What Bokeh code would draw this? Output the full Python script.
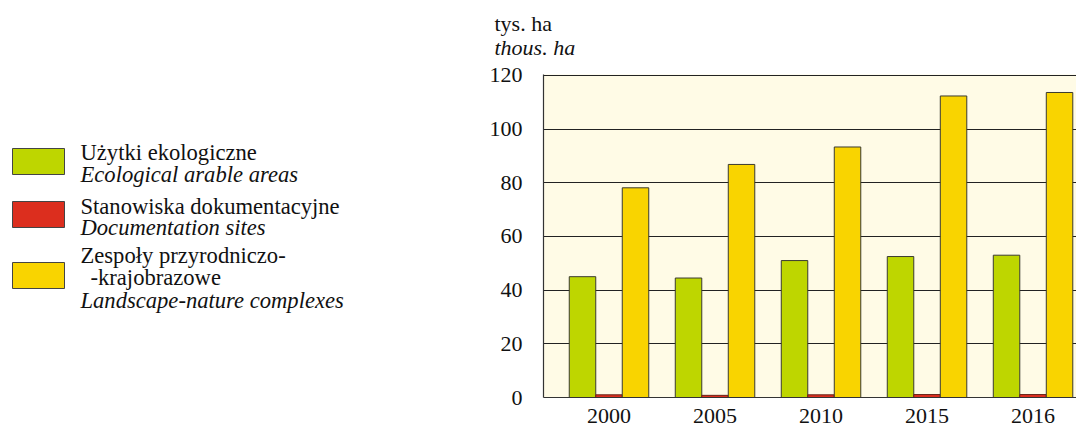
from bokeh.plotting import figure
from bokeh.layouts import row, column
from bokeh.models import ColumnDataSource, Range1d, FixedTicker
from bokeh.core.properties import value
from bokeh.transform import dodge
from bokeh.embed import file_html
from bokeh.resources import INLINE

# ---- data ----
years = ["2000", "2005", "2010", "2015", "2016"]
ecological = [45.0, 44.5, 51.0, 52.5, 53.0]
documentation = [1.0, 0.8, 1.0, 1.1, 1.1]
landscape = [78.1, 86.8, 93.3, 112.3, 113.6]
y_ticks = [0, 20, 40, 60, 80, 100, 120]

unit_pl = "tys. ha"
unit_en = "thous. ha"
names_pl = ["Użytki ekologiczne", "Stanowiska dokumentacyjne", "Zespoły przyrodniczo-"]
name_pl_cont = "-krajobrazowe"
names_en = ["Ecological arable areas", "Documentation sites", "Landscape-nature complexes"]
colors = ["#BED600", "#DC2E1E", "#F9D400"]

FONT = "Liberation Serif"
TXT = "#111111"
FS = "22px"
FS_LEG = "22.6px"
W, H = 1076, 427
HEAD_H = 60          # strip above the chart holding the unit labels
LEG_W = 440          # width of the legend panel
TOP_B, BOT_B = 14, 30
FRAME_LEFT = 543


def blank_fig(width, height, y_top, y_bottom, **kw):
    f = figure(width=width, height=height, x_range=Range1d(0, width),
               y_range=Range1d(y_bottom, y_top), output_backend="svg",
               toolbar_location=None, title=None,
               x_axis_location=None, y_axis_location=None, **kw)
    f.outline_line_color = None
    f.xgrid.visible = False
    f.ygrid.visible = False
    return f


# ---------------- header with unit labels ----------------
hf = blank_fig(W, HEAD_H, 0, HEAD_H, min_border_left=0, min_border_right=0,
               min_border_top=0, min_border_bottom=0)
hf.text(x=[494], y=[23], text=[unit_pl], text_font=value(FONT), text_font_size=FS,
        text_color=TXT, text_baseline="alphabetic")
hf.text(x=[494], y=[47], text=[unit_en], text_font=value(FONT), text_font_style="italic",
        text_font_size=FS, text_color=TXT, text_baseline="alphabetic")

# ---------------- main chart ----------------
idx = list(range(len(years)))
src = ColumnDataSource(dict(x=idx, year=years, eco=ecological, doc=documentation, land=landscape))

p = figure(width=W - LEG_W, height=H - HEAD_H, title=None,
           x_range=Range1d(-0.618, 4.410), y_range=Range1d(0, 120.3),
           output_backend="svg", toolbar_location=None,
           min_border_left=FRAME_LEFT - LEG_W, min_border_top=TOP_B,
           min_border_bottom=BOT_B, min_border_right=0)

p.background_fill_color = "#FFFBE6"
p.outline_line_color = None

bw = 0.25
p.vbar(x=dodge("x", -bw), top="eco", width=bw, source=src,
       fill_color=colors[0], line_color="#3a3a30", line_width=1)
p.vbar(x="x", top="doc", width=bw, source=src,
       fill_color=colors[1], line_color="#6a2418", line_width=1)
p.vbar(x=dodge("x", bw), top="land", width=bw, source=src,
       fill_color=colors[2], line_color="#3a3a30", line_width=1)

p.xaxis.ticker = FixedTicker(ticks=idx)
p.xaxis.major_label_overrides = {i: y for i, y in zip(idx, years)}
p.yaxis.ticker = FixedTicker(ticks=y_ticks)
p.ygrid.ticker = FixedTicker(ticks=y_ticks[1:])
p.ygrid.grid_line_color = "#222222"
p.ygrid.grid_line_width = 1
p.ygrid.level = "image"
p.xgrid.grid_line_color = None
for ax in (p.xaxis, p.yaxis):
    ax.major_tick_line_color = None
    ax.minor_tick_line_color = None
    ax.axis_line_color = "#333333"
    ax.axis_line_width = 1.2
    ax.major_label_text_font = FONT
    ax.major_label_text_font_size = FS
    ax.major_label_text_color = TXT
p.yaxis.major_label_standoff = 15
p.xaxis.major_label_standoff = 5

# ---------------- legend panel (page pixel coordinates, y downwards) ----------------
# its frame is aligned with the chart's frame: page y from HEAD_H+TOP_B to H-BOT_B
lf = blank_fig(LEG_W, H - HEAD_H, HEAD_H + TOP_B, H - BOT_B,
               min_border_left=0, min_border_right=0,
               min_border_top=TOP_B, min_border_bottom=BOT_B)

sw_left, sw_w, sw_h = 12, 52, 26
txt_x = 80
sw_tops = [148, 201, 262]
pl_base = [152, 206, 255]
pl_cont_base = 277
en_base = [174, 227, 300]

lf.quad(left=[sw_left] * 3, right=[sw_left + sw_w] * 3,
        top=sw_tops, bottom=[t + sw_h for t in sw_tops],
        fill_color=colors, line_color="#444444", line_width=1)
lf.text(x=[txt_x] * 3 + [txt_x + 10], y=pl_base + [pl_cont_base], text=names_pl + [name_pl_cont],
        text_font=value(FONT), text_font_size=FS_LEG, text_color=TXT,
        text_baseline="alphabetic", text_align="left")
lf.text(x=[txt_x] * 3, y=en_base, text=names_en,
        text_font=value(FONT), text_font_style="italic", text_font_size=FS_LEG, text_color=TXT,
        text_baseline="alphabetic", text_align="left")

layout = column(hf, row(lf, p))
open("out.html", "w").write(file_html(layout, INLINE))
